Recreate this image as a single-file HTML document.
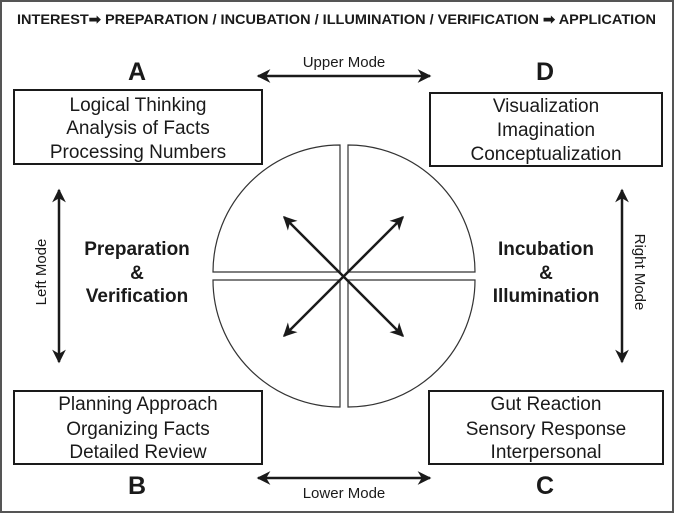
<!DOCTYPE html>
<html><head><meta charset="utf-8"><style>
html,body{margin:0;padding:0;background:#fff}
svg{display:block}
text{font-family:"Liberation Sans",Arial,sans-serif;fill:#1a1a1a}
</style></head><body>
<svg width="674" height="513" viewBox="0 0 674 513" xmlns="http://www.w3.org/2000/svg">
<defs>
<marker id="ah" viewBox="0 0 10 10" refX="9" refY="5" markerWidth="5.5" markerHeight="5.5" orient="auto-start-reverse" markerUnits="strokeWidth">
<path d="M0,0 L10,5 L0,10 L3,5 z" fill="#1a1a1a"/></marker>
</defs>
<rect x="1" y="1" width="672" height="511" fill="#fff" stroke="#555" stroke-width="2"/>
<text x="17" y="24" font-size="14" font-weight="bold" textLength="639" lengthAdjust="spacingAndGlyphs">INTEREST➡ PREPARATION / INCUBATION / ILLUMINATION / VERIFICATION ➡ APPLICATION</text>

<text x="137" y="80" font-size="25" font-weight="bold" text-anchor="middle">A</text>
<text x="545" y="80" font-size="25" font-weight="bold" text-anchor="middle">D</text>
<text x="137" y="494" font-size="25" font-weight="bold" text-anchor="middle">B</text>
<text x="545" y="494" font-size="25" font-weight="bold" text-anchor="middle">C</text>

<line x1="258" y1="76" x2="430" y2="76" stroke="#1a1a1a" stroke-width="2.5" marker-start="url(#ah)" marker-end="url(#ah)"/>
<text x="344" y="67" font-size="15" text-anchor="middle">Upper Mode</text>
<line x1="258" y1="478" x2="430" y2="478" stroke="#1a1a1a" stroke-width="2.5" marker-start="url(#ah)" marker-end="url(#ah)"/>
<text x="344" y="498" font-size="15" text-anchor="middle">Lower Mode</text>
<line x1="59" y1="190" x2="59" y2="362" stroke="#1a1a1a" stroke-width="2.5" marker-start="url(#ah)" marker-end="url(#ah)"/>
<text transform="translate(46,272) rotate(-90)" font-size="15" text-anchor="middle">Left Mode</text>
<line x1="622" y1="190" x2="622" y2="362" stroke="#1a1a1a" stroke-width="2.5" marker-start="url(#ah)" marker-end="url(#ah)"/>
<text transform="translate(635,272) rotate(90)" font-size="15" text-anchor="middle">Right Mode</text>

<g fill="none" stroke="#1a1a1a" stroke-width="2">
<rect x="14" y="90" width="248" height="74"/>
<rect x="430" y="93" width="232" height="73"/>
<rect x="14" y="391" width="248" height="73"/>
<rect x="429" y="391" width="234" height="73"/>
</g>
<g font-size="19" text-anchor="middle">
<text x="138" y="111">Logical Thinking</text>
<text x="138" y="134">Analysis of Facts</text>
<text x="138" y="158">Processing Numbers</text>
<text x="546" y="112">Visualization</text>
<text x="546" y="136">Imagination</text>
<text x="546" y="160">Conceptualization</text>
<text x="138" y="410">Planning Approach</text>
<text x="138" y="435">Organizing Facts</text>
<text x="138" y="458">Detailed Review</text>
<text x="546" y="410">Gut Reaction</text>
<text x="546" y="435">Sensory Response</text>
<text x="546" y="458">Interpersonal</text>
</g>
<g font-size="19" font-weight="bold" text-anchor="middle">
<text x="137" y="255">Preparation</text>
<text x="137" y="279">&amp;</text>
<text x="137" y="302">Verification</text>
<text x="546" y="255">Incubation</text>
<text x="546" y="279">&amp;</text>
<text x="546" y="302">Illumination</text>
</g>

<g fill="#fff" stroke="#333" stroke-width="1.2">
<path d="M340,272 L213,272 A127,127 0 0 1 340,145 Z"/>
<path d="M348,272 L348,145 A127,127 0 0 1 475,272 Z"/>
<path d="M340,280 L340,407 A127,127 0 0 1 213,280 Z"/>
<path d="M348,280 L475,280 A127,127 0 0 1 348,407 Z"/>
</g>
<g stroke="#1a1a1a" stroke-width="2.5">
<line x1="284" y1="217" x2="403" y2="336" marker-start="url(#ah)" marker-end="url(#ah)"/>
<line x1="403" y1="217" x2="284" y2="336" marker-start="url(#ah)" marker-end="url(#ah)"/>
</g>
</svg>
</body></html>
